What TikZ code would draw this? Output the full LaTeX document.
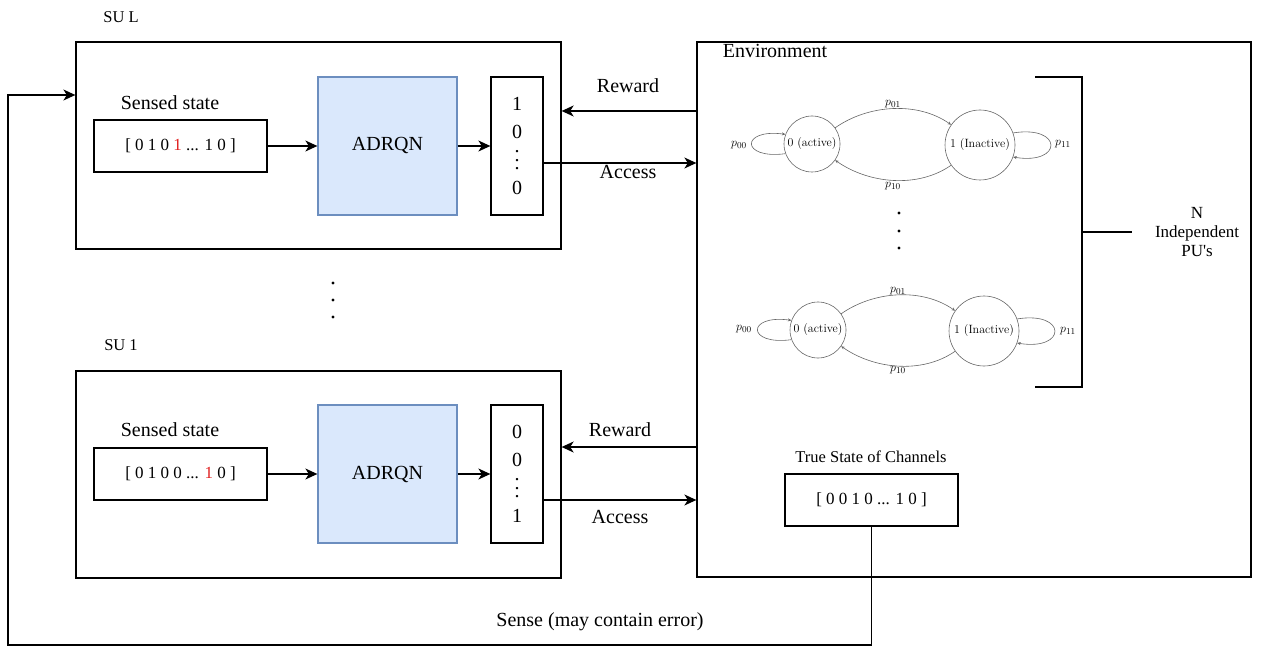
\documentclass[tikz,border=0pt]{standalone}
\usepackage{fontspec}
\setmainfont{Liberation Serif}
\usetikzlibrary{arrows.meta}
\definecolor{adfill}{HTML}{DAE8FC}
\definecolor{adline}{HTML}{6C8EBF}
\definecolor{mcgray}{HTML}{666666}
\definecolor{bitred}{HTML}{E02020}
\newcommand\colvdots{\smash{\raisebox{-3pt}{\vbox{\baselineskip=8.5pt\lineskiplimit=-\maxdimen\hbox{.}\hbox{.}\hbox{.}}}}}
\begin{document}
\begin{tikzpicture}[x=1pt,y=1pt,
  blk/.style={draw, line width=1.3pt, inner sep=0pt},
  arr/.style={line width=1.3pt, -{Stealth[length=12pt,width=11pt,inset=3.5pt]}},
  ln/.style={line width=1.3pt},
  lbl/.style={inner sep=0pt, font=\fontsize{20}{24}\selectfont},
  small/.style={inner sep=0pt, font=\fontsize{16.5}{19}\selectfont},
  vec/.style={blk, minimum width=173pt, minimum height=52pt, font=\fontsize{17}{20}\selectfont},
  nn/.style={blk, draw=adline, fill=adfill, minimum width=139pt, minimum height=138pt, font=\fontsize{20}{24}\selectfont},
  outcol/.style={blk, minimum width=52pt, minimum height=138pt, align=center, font=\fontsize{20}{28}\selectfont},
  subox/.style={blk, minimum width=485pt, minimum height=207pt},
  st/.style={draw=mcgray, circle, line width=0.6pt, inner sep=0pt, font=\fontfamily{lmr}\fontsize{12}{14}\selectfont},
  mc/.style={draw=mcgray, line width=0.6pt, -{Stealth[length=3.5pt,width=3pt]}},
  pl/.style={inner sep=0pt, font=\fontsize{13}{15}\selectfont},
  dotn/.style={circle, fill, inner sep=0pt, minimum size=3.4pt}
]
\useasboundingbox (0,0) rectangle (1265,646);

% ---------- SU L ----------
\node[small] (suLlab) at (121,646-17) {SU L};
\node[subox] (suL) at (318.5,646-145.5) {};
\node[lbl] (ssL) at (170,646-103) {Sensed state};
\node[vec] (vL) at (180.5,646-146) {[ 0 1 0 {\color{bitred}1} ... 1 0 ]};
\node[nn] (nnL) at (387.5,646-146) {ADRQN};
\node[outcol] (oL) at (517,646-146) {1\\0\\\colvdots\\0};
\draw[arr] (vL) -- (nnL);
\draw[arr] (nnL) -- (oL);

% ---------- SU 1 ----------
\node[small] (su1lab) at (121,646-345) {SU 1};
\node[subox] (su1) at (318.5,646-474.5) {};
\node[lbl] (ss1) at (170,646-430) {Sensed state};
\node[vec] (v1) at (180.5,646-474) {[ 0 1 0 0 ... {\color{bitred}1} 0 ]};
\node[nn] (nn1) at (387.5,646-474) {ADRQN};
\node[outcol] (o1) at (517,646-474) {0\\0\\\colvdots\\1};
\draw[arr] (v1) -- (nn1);
\draw[arr] (nn1) -- (o1);

% dots between SUs
\node[dotn] (sd1) at (333,646-283) {};
\node[dotn] (sd2) at (333,646-300) {};
\node[dotn] (sd3) at (333,646-317) {};

% ---------- Environment ----------
\node[blk, minimum width=554pt, minimum height=535pt] (env) at (974,646-309.5) {};
\node[lbl] (envlab) at (775,646-51) {Environment};

% reward / access SU L
\draw[arr] ([yshift=35pt]oL.east -| env.west) -- ([yshift=35pt]oL.east -| suL.east);
\node[lbl] (rwL) at (628,646-86) {Reward};
\draw[arr] ([yshift=-17pt]oL.east) -- ([yshift=-17pt]oL.east -| env.west);
\node[lbl] (acL) at (628,646-172) {Access};

% reward / access SU 1
\draw[arr] ([yshift=27pt]o1.east -| env.west) -- ([yshift=27pt]o1.east -| su1.east);
\node[lbl] (rw1) at (620,646-430) {Reward};
\draw[arr] ([yshift=-26pt]o1.east) -- ([yshift=-26pt]o1.east -| env.west);
\node[lbl] (ac1) at (620,646-517) {Access};

% ---------- Markov chain 1 ----------
\node[st, minimum size=56pt] (a0) at (812,646-144) {0 (active)};
\node[st, minimum size=70pt] (a1) at (980,646-145) {1 (Inactive)};
\draw[mc] (a0) to[out=35,in=145,looseness=0.9] (a1);
\draw[mc] (a1) to[out=-145,in=-35,looseness=0.9] (a0);
\draw[mc] (a0.200) .. controls +(-45,-6) and +(-45,6) .. (a0.160);
\draw[mc] (a1.20) .. controls +(50,8) and +(50,-8) .. (a1.-20);
\node[pl] (a01) at (893,646-104) {$p_{01}$};
\node[pl] (a10) at (893,646-186) {$p_{10}$};
\node[pl] (a00) at (739,646-145) {$p_{00}$};
\node[pl] (a11) at (1063,646-144) {$p_{11}$};

\node[dotn] (md1) at (899,646-213) {};
\node[dotn] (md2) at (899,646-231) {};
\node[dotn] (md3) at (899,646-248) {};

% ---------- Markov chain 2 ----------
\node[st, minimum size=56pt] (b0) at (818,646-330) {0 (active)};
\node[st, minimum size=70pt] (b1) at (984,646-331) {1 (Inactive)};
\draw[mc] (b0) to[out=35,in=145,looseness=0.9] (b1);
\draw[mc] (b1) to[out=-145,in=-35,looseness=0.9] (b0);
\draw[mc] (b0.200) .. controls +(-45,-6) and +(-45,6) .. (b0.160);
\draw[mc] (b1.20) .. controls +(50,8) and +(50,-8) .. (b1.-20);
\node[pl] (b01) at (898,646-291) {$p_{01}$};
\node[pl] (b10) at (898,646-370) {$p_{10}$};
\node[pl] (b00) at (744,646-329) {$p_{00}$};
\node[pl] (b11) at (1068,646-331) {$p_{11}$};

% bracket
\coordinate (brt) at (1035,646-77);
\coordinate (brb) at (1035,646-387);
\coordinate (brm) at (1082,646-232);
\draw[ln] (brt) -- (1082,646-77) -- (1082,646-387) -- (brb);
\node[inner sep=0pt, align=center, font=\fontsize{17}{19}\selectfont] (npu) at (1197,646-232) {N\\Independent\\PU\textquotesingle s};
\draw[ln] (brm) -- ([xshift=-23pt]npu.west |- brm);

% ---------- True state ----------
\node[small] (tslab) at (871,646-457) {True State of Channels};
\node[vec] (ts) at (871.5,646-500) {[ 0 0 1 0 ... 1 0 ]};

% feedback
\coordinate (fbr) at (871.5,646-645);
\coordinate (fbl) at (8,646-645);
\draw[arr] (ts.south) -- (fbr) -- (fbl) |- ([yshift=50.5pt]suL.west);
\node[lbl] (senselab) at (600,646-622) {Sense (may contain error)};
\end{tikzpicture}
\end{document}
